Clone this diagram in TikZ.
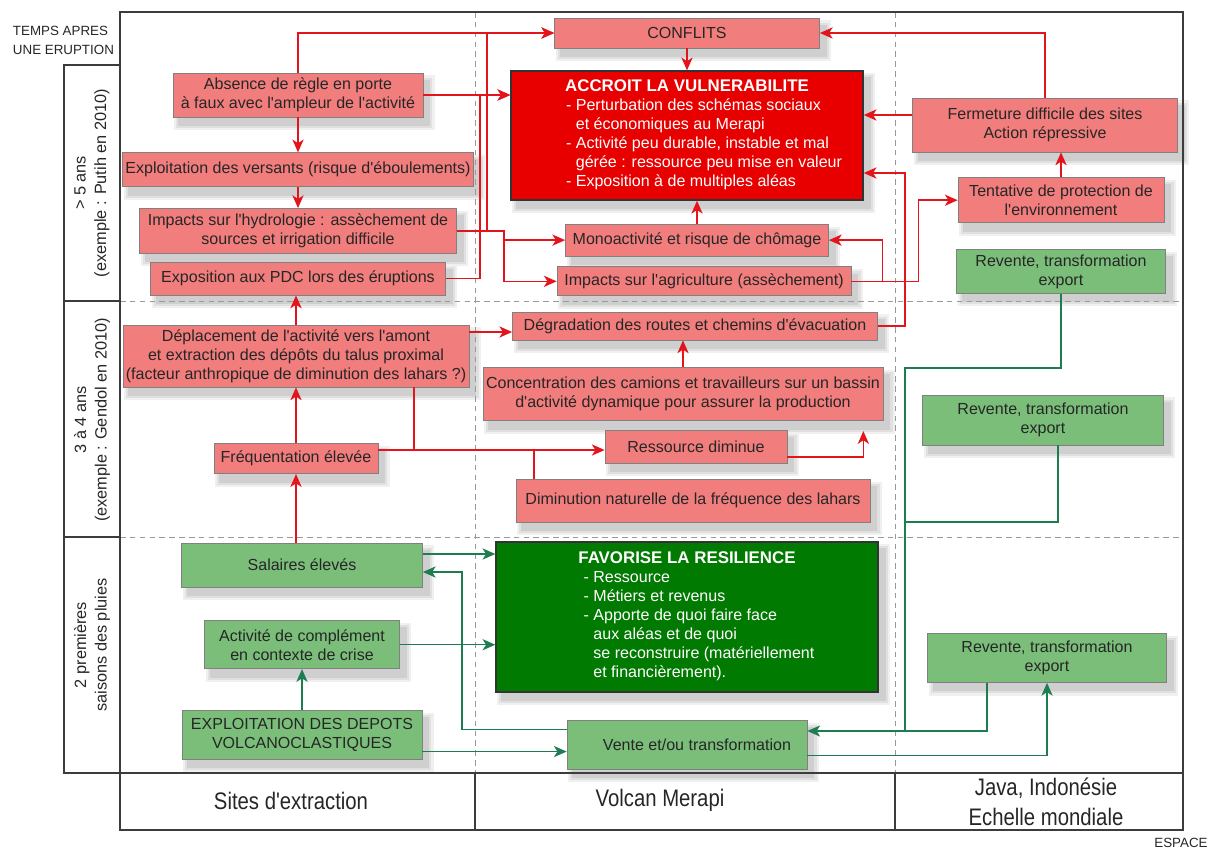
\documentclass[tikz,border=0pt]{standalone}
\usepackage{fontspec}
\setmainfont{Liberation Sans}
\usepackage{tikz}
\usetikzlibrary{arrows.meta, positioning, backgrounds}

\definecolor{redfill}{RGB}{242,125,125}
\definecolor{redbox}{RGB}{232,0,0}
\definecolor{greenfill}{RGB}{122,190,122}
\definecolor{greenbox}{RGB}{0,122,0}
\definecolor{redline}{RGB}{228,20,28}
\definecolor{greenline}{RGB}{30,125,80}
\definecolor{boxline}{RGB}{128,128,128}
\definecolor{framegray}{RGB}{60,60,60}

% straight apostrophe
\newcommand{\ap}{\textquotesingle}

\begin{document}
\begin{tikzpicture}[
    x=0.025cm, y=-0.025cm,
    every node/.style={font=\fontsize{11.4}{13.5}\selectfont, text=black!85},
    sz/.style 2 args={minimum width=#1*0.025cm, minimum height=#2*0.025cm},
    box/.style={rectangle, draw=boxline, line width=0.5pt, inner sep=2pt, align=center},
    rbox/.style={box, fill=redfill},
    gbox/.style={box, fill=greenfill},
    bigred/.style={box, fill=redbox, draw=black!80, line width=1pt, text=white},
    biggreen/.style={box, fill=greenbox, draw=black!80, line width=1pt, text=white},
    outline/.style={draw=framegray, line width=0.9pt},
    divider/.style={draw=gray!80, line width=0.6pt, dash pattern=on 4pt off 3pt},
    axis/.style={rotate=90, align=center, font=\fontsize{11.6}{14.5}\selectfont},
    zone/.style={align=center, font=\fontsize{17}{21.5}\selectfont},
    tag/.style={align=left, font=\fontsize{9.5}{13.5}\selectfont},
    rline/.style={draw=redline, line width=1.1pt},
    rarr/.style={rline, -{Stealth[length=3.2mm, width=2.8mm, inset=0.9mm]}},
    gline/.style={draw=greenline, line width=0.9pt},
    garr/.style={gline, -{Stealth[length=3.2mm, width=2.8mm, inset=0.9mm]}}
]
    \useasboundingbox (0,0) rectangle (1216,851);

    % Frame
    \draw[divider] (120,301) -- (1183,301);
    \draw[divider] (120,537) -- (1183,537);
    \draw[divider] (475,12) -- (475,773);
    \draw[divider] (895,12) -- (895,773);
    \draw[outline] (120,12) rectangle (1183,830);
    \draw[outline] (120,773) -- (1183,773);
    \draw[outline] (475,773) -- (475,830);
    \draw[outline] (895,773) -- (895,830);
    \draw[outline] (64,65) rectangle (120,773);
    \draw[outline] (64,301) -- (120,301);
    \draw[outline] (64,537) -- (120,537);

    % Axes
    \node[tag, anchor=west] (temps) at (8,40) {TEMPS APRES\\UNE ERUPTION};
    \node[tag] (espace) at (1181,843) {ESPACE};
    \node[axis] (row1) at (92,183) {> 5 ans\\(exemple : Putih en 2010)};
    \node[axis] (row2) at (92,420) {3 à 4 ans\\(exemple : Gendol en 2010)};
    \node[axis] (row3) at (92,645) {2 premières\\saisons des pluies};
    \node[zone] (sites) at (291,801) {\scalebox{0.85}[1]{Sites d\ap extraction}};
    \node[zone] (merapi) at (660,800) {\scalebox{0.85}[1]{Volcan Merapi}};
    \node[zone] (java) at (1046,802) {\scalebox{0.85}[1]{Java, Indonésie}\\\scalebox{0.85}[1]{Echelle mondiale}};

    % Plus de 5 ans
    \node[rbox, sz={250}{44}] (absence) at (298,95) {Absence de règle en porte\\à faux avec l\ap ampleur de l\ap activité};
    \node[rbox, sz={348}{34}, below=0.875cm of absence] (versants) {Exploitation des versants (risque d\ap éboulements)};
    \node[rbox, sz={317}{45}, below=0.525cm of versants] (hydro) {Impacts sur l\ap hydrologie : assèchement de\\sources et irrigation difficile};
    \node[rbox, sz={295}{33}, below=0.2cm of hydro] (pdc) {Exposition aux PDC lors des éruptions};

    \node[rbox, sz={265}{30}] (conflits) at (687,33) {CONFLITS};
    \node[bigred, sz={352}{129}, below=0.55cm of conflits] (vulner) {%
        {\bfseries\fontsize{12}{15}\selectfont ACCROIT LA VULNERABILITE}\\[3pt]
        \hspace*{0.85cm}\begin{tabular}{@{}l@{}}
        - Perturbation des schémas sociaux\\
        \hphantom{- }et économiques au Merapi\\
        - Activité peu durable, instable et mal\\
        \hphantom{- }gérée : ressource peu mise en valeur\\
        - Exposition à de multiples aléas
        \end{tabular}};
    \node[rbox, sz={263}{32}, below=0.575cm of vulner, xshift=0.25cm] (monoact) {Monoactivité et risque de chômage};
    \node[rbox, sz={294}{29}, below=0.25cm of monoact, xshift=0.175cm] (agri) {Impacts sur l\ap agriculture (assèchement)};

    \node[rbox, sz={265}{54}] (fermeture) at (1045,125) {Fermeture difficile des sites\\Action répressive};
    \node[rbox, sz={206}{45}, below=0.625cm of fermeture, xshift=0.4cm] (tentative) {Tentative de protection de\\l\ap environnement};
    \node[gbox, sz={209}{44}, below=0.65cm of tentative] (revente1) {Revente, transformation\\export};

    % 3 a 4 ans
    \node[rbox, sz={344}{62}] (deplacement) at (296,356) {Déplacement de l\ap activité vers l\ap amont\\et extraction des dépôts du talus proximal\\(facteur anthropique de diminution des lahars ?)};
    \node[rbox, sz={164}{30}, below=1.4cm of deplacement] (frequentation) {Fréquentation élevée};

    \node[rbox, sz={365}{28}] (degradation) at (695,326) {Dégradation des routes et chemins d\ap évacuation};
    \node[rbox, sz={400}{53}, below=0.675cm of degradation, xshift=-0.3cm] (concentration) {Concentration des camions et travailleurs sur un bassin\\d\ap activité dynamique pour assurer la production};
    \node[rbox, sz={182}{33}, below=0.225cm of concentration, xshift=0.325cm] (ressource) {Ressource diminue};
    \node[rbox, sz={354}{43}, below=0.375cm of ressource, xshift=-0.075cm] (diminution) {Diminution naturelle de la fréquence des lahars};

    \node[gbox, sz={241}{50}] (revente2) at (1043,420) {Revente, transformation\\export};

    % 2 premieres saisons
    \node[gbox, sz={241}{44}] (salaires) at (302,565) {Salaires élevés};
    \node[gbox, sz={195}{48}, below=0.825cm of salaires] (complement) {Activité de complément\\en contexte de crise};
    \node[gbox, sz={240}{49}, below=1.025cm of complement] (exploitation) {EXPLOITATION DES DEPOTS\\VOLCANOCLASTIQUES};

    \node[biggreen, sz={382}{150}] (resilience) at (687,617) {%
        {\bfseries\fontsize{12}{15}\selectfont FAVORISE LA RESILIENCE}\\[3pt]
        \hspace*{0.6cm}\begin{tabular}{@{}l@{}}
        - Ressource\\
        - Métiers et revenus\\
        - Apporte de quoi faire face\\
        \hphantom{- }aux aléas et de quoi\\
        \hphantom{- }se reconstruire (matériellement\\
        \hphantom{- }et financièrement).
        \end{tabular}};
    \node[gbox, sz={240}{49}, below=0.675cm of resilience] (vente) {\hspace*{0.5cm}Vente et/ou transformation};

    \node[gbox, sz={239}{49}] (revente3) at (1047,658) {Revente, transformation\\export};

    % Shadows
    \begin{scope}[on background layer]
        \foreach \n in {absence, versants, hydro, pdc, conflits, vulner, monoact, agri,
                fermeture, tentative, revente1, deplacement, frequentation, degradation,
                concentration, ressource, diminution, revente2, salaires, complement,
                exploitation, resilience, vente, revente3} {
            \fill[black!6] ([xshift=1pt, yshift=-9pt]\n.south west) rectangle ([xshift=8pt, yshift=-2pt]\n.north east);
            \fill[black!12] ([xshift=2.5pt, yshift=-7.5pt]\n.south west) rectangle ([xshift=6.5pt, yshift=-3.5pt]\n.north east);
            \fill[black!19] ([xshift=4pt, yshift=-6pt]\n.south west) rectangle ([xshift=5pt, yshift=-5pt]\n.north east);
        }
    \end{scope}

    % Junctions
    \coordinate (tk1) at ([xshift=0.75cm]hydro.east);
    \coordinate (tk2) at ([xshift=1.175cm]hydro.east);
    \coordinate (tk3) at (480,0);
    \coordinate (ja) at ([xshift=0.775cm]agri.east);
    \coordinate (jb) at ([xshift=1.675cm]agri.east);
    \coordinate (jc) at (905,173);
    \coordinate (jd) at ([yshift=-0.15cm]degradation.west);
    \coordinate (je) at (414,450);
    \coordinate (jf) at (534,450);
    \coordinate (fw) at ([yshift=0.25cm]fermeture.west);
    \coordinate (s1) at ([yshift=0.275cm]salaires.east);
    \coordinate (v1) at ([yshift=0.375cm]vente.west);
    \coordinate (v2) at ([yshift=-0.175cm]vente.west);
    \coordinate (v3) at ([yshift=-0.275cm]vente.east);
    \coordinate (jg) at (462,572);
    \coordinate (gt) at (905,368);
    \coordinate (gb) at (905,731);

    % Red arrows
    \draw[rarr] (absence.north) |- (conflits.west);
    \draw[rarr] (hydro.east) -- (tk1) |- (conflits.west);
    \draw[rarr] (hydro.east) -- (tk2) |- (monoact.west);
    \draw[rarr] (tk2) |- (agri.west);
    \draw[rarr] (absence.east) -- (absence.east -| vulner.west);
    \draw[rarr] (pdc.east) -| (tk3 |- absence.east) -- (vulner.west |- absence.east);
    \draw[rarr] (absence) -- (versants);
    \draw[rarr] (versants) -- (hydro);
    \draw[rarr] (conflits) -- (vulner);
    \draw[rarr] (monoact.north) -- (monoact.north |- vulner.south);
    \draw[rarr] (fw) -- (fw -| vulner.east);
    \draw[rarr] (fermeture.north) |- (conflits.east);
    \draw[rarr] (tentative.north) -- (tentative.north |- fermeture.south);
    \draw[rarr] (agri.east) -- (jb) |- (tentative.west);
    \draw[rarr] (ja) |- (monoact.east);
    \draw[rarr] (degradation.east) -| (jc) -- (jc -| vulner.east);
    \draw[rarr] (deplacement.north) -- (deplacement.north |- pdc.south);
    \draw[rarr] (jd -| deplacement.east) -- (jd);
    \draw[rarr] (frequentation) -- (deplacement);
    \draw[rline] (deplacement.south -| je) -- (je);
    \draw[rarr] (frequentation.east |- je) -- (ressource.west |- je);
    \draw[rline] (diminution.north -| jf) -- (jf);
    \draw[rarr] ([yshift=-0.25cm]ressource.east) -| ([xshift=-0.5cm, yshift=-0.25cm]concentration.south east);
    \draw[rarr] (concentration.north) -- (concentration.north |- degradation.south);
    \draw[rarr] (frequentation.south |- salaires.north) -- (frequentation.south);

    % Green arrows
    \draw[garr] (s1) -- (s1 -| resilience.west);
    \draw[garr] (v1) -| (jg) -- (jg -| salaires.east);
    \draw[garr] (complement.east) -- (complement.east -| resilience.west);
    \draw[garr] (exploitation.north) -- (exploitation.north |- complement.south);
    \draw[garr] (v2 -| exploitation.east) -- (v2);
    \draw[garr] (v3) -| (revente3.south);
    \draw[gline] (revente1.south) |- (gt) -- (gb);
    \draw[gline] ([xshift=0.375cm]revente2.south) |- (gb |- 0,522);
    \draw[gline] ([xshift=-1.5cm]revente3.south) |- (gb);
    \draw[garr] (gb) -- (gb -| vente.east);
\end{tikzpicture}
\end{document}
